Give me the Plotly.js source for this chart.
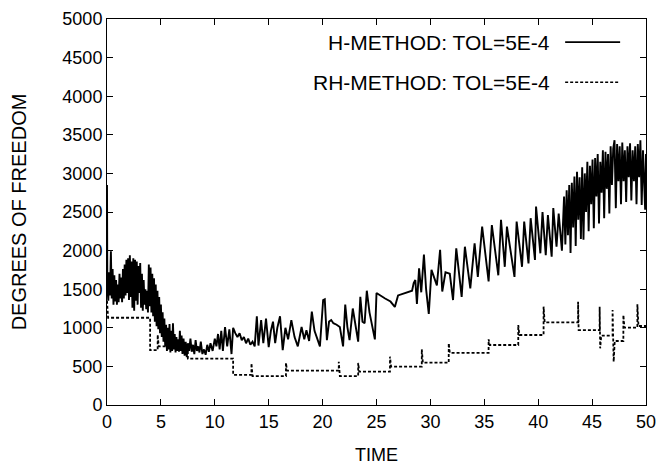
<!DOCTYPE html>
<html>
<head>
<meta charset="utf-8">
<script src="https://cdn.plot.ly/plotly-3.0.1.min.js"></script>
<style>html,body{margin:0;padding:0;background:#fff;}#chart{width:659px;height:468px;}</style>
</head>
<body>
<div id="chart"></div>
<script>
// H-METHOD series (time, degrees of freedom)
var hTime = [0.00,0.03,0.12,0.20,0.28,0.36,0.44,0.52,0.60,0.68,0.76,0.84,0.92,1.00,1.08,1.16,1.24,1.32,1.40,1.48,1.56,1.64,1.72,1.80,1.88,1.96,2.04,2.12,2.20,2.28,2.36,2.44,2.52,2.60,2.68,2.76,2.84,2.92,3.00,3.08,3.16,3.24,3.32,3.40,3.48,3.56,3.64,3.72,3.80,3.88,3.96,4.04,4.12,4.20,4.28,4.36,4.44,4.52,4.60,4.68,4.76,4.84,4.92,5.00,5.08,5.16,5.24,5.32,5.40,5.48,5.56,5.64,5.72,5.80,5.88,5.96,6.04,6.12,6.20,6.28,6.36,6.44,6.52,6.60,6.68,6.76,6.84,6.92,7.00,7.10,7.20,7.30,7.40,7.50,7.62,7.74,7.86,7.98,8.10,8.22,8.34,8.46,8.58,8.70,8.85,9.00,9.15,9.30,9.45,9.60,9.80,10.00,10.15,10.30,10.45,10.60,10.75,10.95,11.15,11.35,11.55,11.70,11.90,12.10,12.30,12.50,12.70,12.90,13.10,13.30,13.50,13.70,13.90,14.05,14.30,14.50,14.75,15.00,15.20,15.40,15.60,15.80,16.05,16.30,16.55,16.80,17.10,17.40,17.70,18.05,18.30,18.50,18.75,19.00,19.25,19.50,19.75,20.05,20.20,20.40,20.60,20.80,21.00,21.30,21.60,21.90,22.10,22.30,22.50,22.80,23.05,23.30,23.50,23.70,23.90,24.10,24.35,24.65,24.85,25.00,25.40,25.80,26.30,26.70,27.00,27.50,28.00,28.30,28.45,28.60,28.75,28.95,29.15,29.40,29.60,29.85,30.10,30.40,30.60,30.90,31.10,31.40,31.80,32.10,32.40,32.90,33.20,33.70,34.10,34.40,34.80,35.40,35.70,36.30,36.55,36.90,37.10,37.80,38.00,38.50,38.70,39.10,39.30,39.70,39.80,40.20,40.40,40.70,40.90,41.25,41.40,41.70,41.90,42.20,42.40,42.52,42.64,42.76,42.88,43.00,43.12,43.24,43.36,43.48,43.60,43.72,43.84,43.96,44.08,44.20,44.32,44.44,44.56,44.68,44.80,44.92,45.04,45.16,45.28,45.40,45.52,45.64,45.76,45.88,46.00,46.12,46.24,46.36,46.48,46.60,46.72,46.84,46.96,47.08,47.20,47.32,47.44,47.56,47.68,47.80,47.92,48.04,48.16,48.28,48.40,48.52,48.64,48.76,48.88,49.00,49.12,49.24,49.36,49.48,49.60,49.72,49.84,49.92,50.00];
var hDof = [2850,1550,1350,1720,1420,1990,1380,1760,1300,1680,1340,1620,1300,1560,1330,1700,1380,1650,1330,1760,1380,1820,1420,1880,1450,1900,1360,1940,1400,1860,1260,1900,1220,1880,1350,1860,1300,1800,1450,1840,1260,1700,1220,1620,1300,1500,1240,1480,1200,1820,1280,1780,1200,1700,1150,1640,1080,1560,1020,1480,980,1400,930,1300,880,1200,820,1120,760,1040,700,1000,720,1050,680,960,700,1060,720,920,680,880,700,850,690,960,700,900,660,860,640,820,620,800,700,860,690,780,660,840,700,760,680,820,660,720,650,780,690,800,700,860,760,920,720,960,700,1010,760,980,660,1000,930,880,930,840,880,800,860,780,820,760,1150,770,1100,800,1120,750,960,1080,800,1000,1150,710,1000,850,1100,880,760,1010,850,970,830,1210,960,860,760,1360,1370,840,1080,1100,1060,1040,1010,760,1300,1010,840,1250,1000,820,1400,1080,1060,1480,1200,990,850,1450,1420,1380,1340,1270,1420,1440,1460,1480,1580,1620,1310,1770,1460,1950,1500,1180,1750,1620,1550,2010,1470,1720,1700,1360,2030,1400,2050,1510,2095,1660,2310,1600,2330,1680,2400,1790,2310,1660,2375,1790,2375,1835,2420,1880,2570,1965,2500,1940,2460,1920,2550,2050,2480,2000,2700,2080,2780,2200,2850,1970,2880,2300,2960,2060,3020,2400,2950,2150,3080,2140,3000,2500,3150,2250,3100,2600,3180,2290,3200,2700,3250,2350,3150,2750,3300,2420,3280,2800,3250,2480,3350,2850,3320,3430,2550,3380,2900,3350,2600,3400,2900,3300,2630,3350,2950,3390,2650,3300,2900,3350,2600,3380,2950,3430,2590,3300,2800,2530,3250];

// RH-METHOD series (time, degrees of freedom)
var rhTime = [0.00,0.10,4.00,4.00,4.70,4.70,4.80,7.50,7.50,11.70,11.70,13.40,13.40,13.50,16.60,16.60,16.70,21.50,21.50,21.60,23.30,23.30,23.40,26.25,26.25,26.35,29.20,29.20,29.30,31.70,31.70,31.80,35.40,35.40,35.50,38.15,38.15,38.25,40.50,40.50,40.60,43.70,43.70,43.75,45.70,45.70,45.75,45.85,46.90,46.90,47.00,47.10,47.90,47.90,48.00,49.20,49.20,49.30,50.00];
var rhDof = [1350,1130,1130,710,710,910,760,760,600,600,390,390,540,375,375,545,445,445,560,375,375,545,432,432,626,497,497,721,548,548,799,675,675,851,777,777,1036,907,907,1274,1071,1071,1338,971,971,1274,734,898,898,1230,560,829,829,1166,1001,1001,1304,1023,1023];

// Axis ticks and labels
var xTicks = [0,5,10,15,20,25,30,35,40,45,50];
var yTicks = [0,500,1000,1500,2000,2500,3000,3500,4000,4500,5000];
var seriesNames = ["H-METHOD: TOL=5E-4", "RH-METHOD: TOL=5E-4"];
var xTitle = "TIME";
var yTitle = "DEGREES OF FREEDOM";

var FONT = "Liberation Sans, Arial, sans-serif";

var traces = [
  {x: hTime, y: hDof, type: "scatter", mode: "lines", name: seriesNames[0],
   line: {color: "#000", width: 1.9}, showlegend: false},
  {x: rhTime, y: rhDof, type: "scatter", mode: "lines", name: seriesNames[1],
   line: {color: "#000", width: 1.8, dash: "3px,2px"}, showlegend: false}
];

var axisCommon = {
  showgrid: false, zeroline: false, showline: true, linecolor: "#000", linewidth: 1,
  mirror: "ticks", ticks: "inside", ticklen: 6, tickcolor: "#000", tickwidth: 1,
  tickfont: {family: FONT, size: 18, color: "#000"}
};

var layout = {
  width: 659, height: 468,
  margin: {l: 107, r: 13, t: 19, b: 63, pad: 0},
  paper_bgcolor: "#fff", plot_bgcolor: "#fff",
  showlegend: false,
  xaxis: Object.assign({}, axisCommon, {
    range: [0, 50], tickvals: xTicks, ticktext: xTicks.map(String),
    title: {text: xTitle, font: {family: FONT, size: 18, color: "#000"}, standoff: 17}
  }),
  yaxis: Object.assign({}, axisCommon, {
    range: [0, 5000], tickvals: yTicks, ticktext: yTicks.map(String),
    title: {text: yTitle, font: {family: FONT, size: 20, color: "#000"}, standoff: 30}
  }),
  annotations: [
    {xref: "paper", yref: "paper", x: 0.826, y: 0.940, xanchor: "right", yanchor: "middle",
     text: seriesNames[0], showarrow: false, font: {family: FONT, size: 21, color: "#000"}},
    {xref: "paper", yref: "paper", x: 0.826, y: 0.836, xanchor: "right", yanchor: "middle",
     text: seriesNames[1], showarrow: false, font: {family: FONT, size: 21, color: "#000"}}
  ],
  shapes: [
    {type: "line", xref: "paper", yref: "paper", x0: 0.850, x1: 0.952, y0: 0.940, y1: 0.940,
     line: {color: "#000", width: 1.6}},
    {type: "line", xref: "paper", yref: "paper", x0: 0.850, x1: 0.952, y0: 0.836, y1: 0.836,
     line: {color: "#000", width: 1.6, dash: "3px,2px"}}
  ]
};

Plotly.newPlot("chart", traces, layout, {staticPlot: true, displayModeBar: false});
</script>
</body>
</html>
